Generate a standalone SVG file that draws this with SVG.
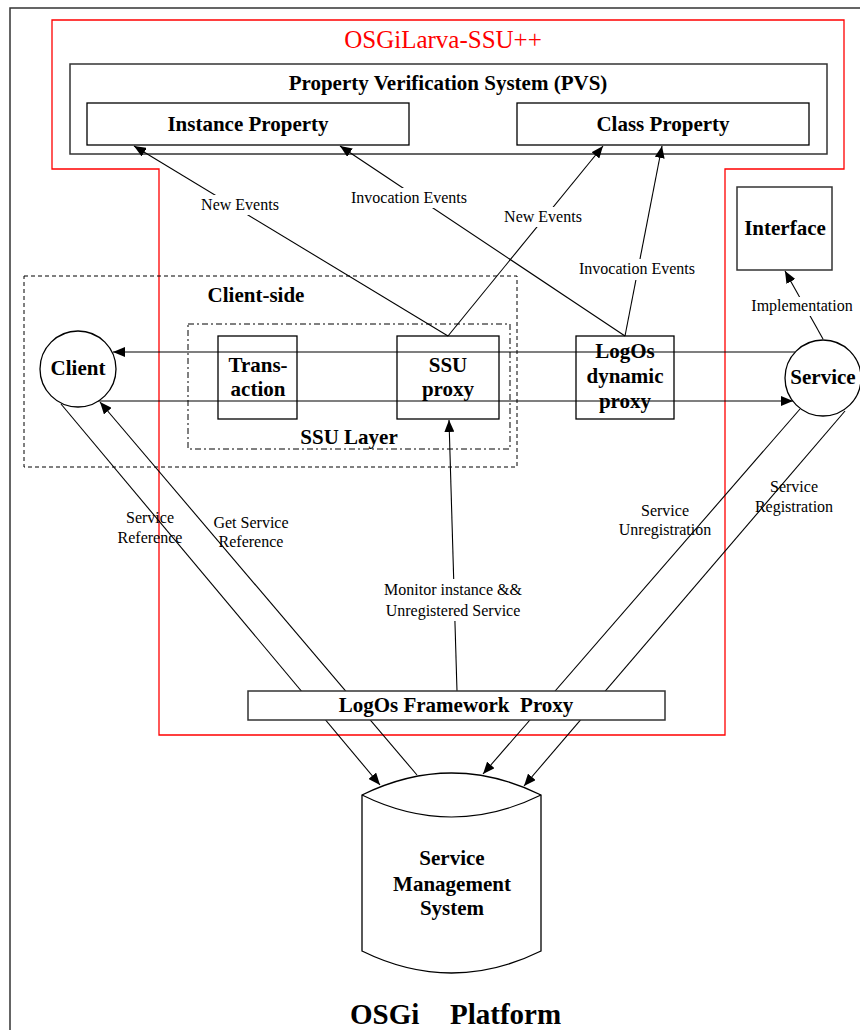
<svg xmlns="http://www.w3.org/2000/svg" width="860" height="1030" viewBox="0 0 860 1030">
<style>
.box{fill:#fff;stroke:#000;stroke-width:1.3}
.gbox{fill:none;stroke:#333;stroke-width:1.5}
.b{font-family:"Liberation Serif","Times New Roman",serif;font-weight:bold;font-size:21px;text-anchor:middle;fill:#000}
.l{font-family:"Liberation Serif","Times New Roman",serif;font-size:16px;text-anchor:middle;fill:#000}
.ln{stroke:#000;stroke-width:1.1;fill:none}
.bg{fill:#fff;stroke:none}
</style>
<defs>
<marker id="ah" viewBox="0 0 12 10" refX="12" refY="5" markerWidth="12" markerHeight="10" markerUnits="userSpaceOnUse" orient="auto">
<path d="M0,0 L12,5 L0,10 Z" fill="#000"/>
</marker>
</defs>
<rect width="860" height="1030" fill="#fff"/>
<g id="platform">
<rect x="10" y="8" width="870" height="1040" class="gbox"/>
<text class="b" style="font-size:29px" text-anchor="start"><tspan x="350" y="1024" text-anchor="start">OSGi</tspan><tspan x="450" y="1024" text-anchor="start">Platform</tspan></text>
</g>
<g id="osgilarva">
<path d="M52,20 H844 V169 H725 V735 H159 V169 H52 Z" fill="none" stroke="#f00" stroke-width="1.3"/>
<text x="443" y="48" font-family="Liberation Serif, serif" font-size="25" fill="#f00" text-anchor="middle">OSGiLarva-SSU++</text>
</g>
<g id="pvs">
<rect x="70" y="64" width="757" height="90" class="gbox"/>
<text x="448" y="90" class="b">Property Verification System (PVS)</text>
</g>
<g id="instance-property">
<rect x="87" y="103" width="322" height="42" class="box"/>
<text x="248" y="131" class="b">Instance Property</text>
</g>
<g id="class-property">
<rect x="517" y="103" width="292" height="42" class="box"/>
<text x="663" y="131" class="b">Class Property</text>
</g>
<g id="client-side">
<rect x="24" y="276" width="493" height="191" fill="none" stroke="#000" stroke-width="1" stroke-dasharray="4,3"/>
<text x="256" y="302" class="b">Client-side</text>
</g>
<g id="ssu-layer">
<rect x="188" y="324" width="322" height="125" fill="none" stroke="#000" stroke-width="1" stroke-dasharray="6,3,2,3"/>
<text x="349" y="444" class="b">SSU Layer</text>
</g>
<g id="interface">
<rect x="737" y="187" width="95" height="83" class="gbox" style="fill:#fff"/>
<text x="785" y="235" class="b">Interface</text>
</g>
<g id="connectors">
<line x1="448" y1="336" x2="134" y2="146" class="ln" marker-end="url(#ah)"/>
<line x1="625" y1="336" x2="340" y2="146" class="ln" marker-end="url(#ah)"/>
<line x1="448" y1="336" x2="603" y2="146" class="ln" marker-end="url(#ah)"/>
<line x1="625" y1="336" x2="662" y2="146" class="ln" marker-end="url(#ah)"/>
<line x1="823" y1="339" x2="785" y2="271" class="ln" marker-end="url(#ah)"/>
<line x1="795" y1="352" x2="113" y2="352" class="ln" marker-end="url(#ah)"/>
<line x1="98" y1="401" x2="793" y2="401" class="ln" marker-end="url(#ah)"/>
<line x1="61" y1="404" x2="380" y2="785" class="ln" marker-end="url(#ah)"/>
<line x1="417" y1="775" x2="100" y2="402" class="ln" marker-end="url(#ah)"/>
<line x1="457" y1="691" x2="449" y2="420" class="ln" marker-end="url(#ah)"/>
<line x1="800" y1="409" x2="483" y2="774" class="ln" marker-end="url(#ah)"/>
<line x1="845" y1="411" x2="524" y2="786" class="ln" marker-end="url(#ah)"/>
<rect x="200" y="195" width="80" height="20" class="bg"/>
<text x="240" y="210" class="l">New Events</text>
<rect x="349" y="188" width="120" height="20" class="bg"/>
<text x="409" y="203" class="l">Invocation Events</text>
<rect x="503" y="207" width="81" height="20" class="bg"/>
<text x="543" y="222" class="l">New Events</text>
<rect x="577" y="259" width="120" height="21" class="bg"/>
<text x="637" y="274" class="l">Invocation Events</text>
<rect x="750" y="297" width="105" height="19" class="bg"/>
<text x="802" y="311" class="l">Implementation</text>
<rect x="380" y="579" width="146" height="42" class="bg"/>
<text x="453" y="595" class="l">Monitor instance &amp;&amp;</text>
<text x="453" y="616" class="l">Unregistered Service</text>
<text x="150" y="523" class="l">Service</text>
<text x="150" y="543" class="l">Reference</text>
<text x="251" y="528" class="l">Get Service</text>
<text x="251" y="547" class="l">Reference</text>
<text x="665" y="516" class="l">Service</text>
<text x="665" y="535" class="l">Unregistration</text>
<text x="794" y="492" class="l">Service</text>
<text x="794" y="512" class="l">Registration</text>
</g>
<g id="client">
<circle cx="78" cy="369" r="38" class="box"/>
<text x="78" y="375" class="b">Client</text>
</g>
<g id="service">
<circle cx="823" cy="378" r="38" class="box"/>
<text x="823" y="384" class="b">Service</text>
</g>
<g id="transaction">
<rect x="218" y="336" width="79" height="83" class="box" style="fill:none"/>
<text x="258" y="372" class="b">Trans-</text>
<text x="258" y="396" class="b">action</text>
</g>
<g id="ssu-proxy">
<rect x="397" y="336" width="102" height="83" class="box" style="fill:none"/>
<text x="448" y="372" class="b">SSU</text>
<text x="448" y="396" class="b">proxy</text>
</g>
<g id="logos-dynamic-proxy">
<rect x="576" y="336" width="98" height="83" class="box" style="fill:none"/>
<text x="625" y="358" class="b">LogOs</text>
<text x="625" y="383" class="b">dynamic</text>
<text x="625" y="408" class="b">proxy</text>
</g>
<g id="logos-framework-proxy">
<rect x="248" y="691" width="417" height="29" class="gbox" style="fill:#fff"/>
<text x="456" y="712" class="b" style="white-space:pre">LogOs Framework  Proxy</text>
</g>
<g id="service-management-system">
<path d="M362,795 Q451.5,751 541,795 V951 Q451.5,995 362,951 Z" class="box"/>
<path d="M362,795 Q451.5,839 541,795" class="ln"/>
<text x="452" y="865" class="b">Service</text>
<text x="452" y="891" class="b">Management</text>
<text x="452" y="915" class="b">System</text>
</g>
</svg>
